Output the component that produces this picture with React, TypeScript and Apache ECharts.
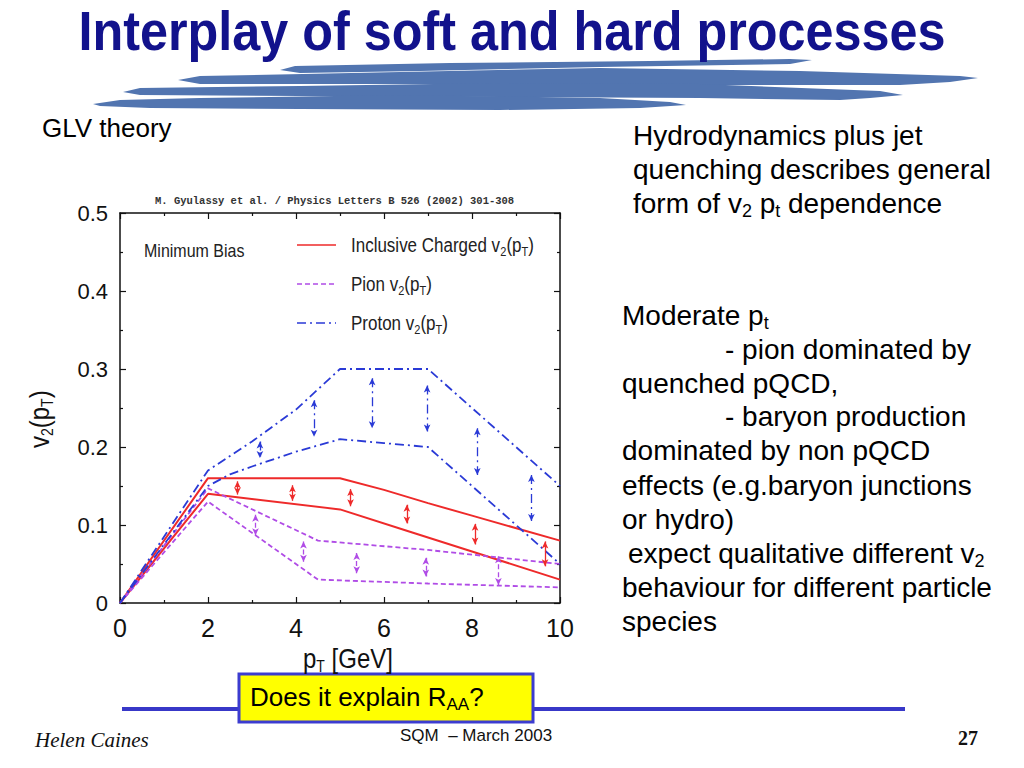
import React, { useEffect, useRef } from "react";
import * as echarts from "echarts";

// ---- data ----
const xTickLabels = ["0", "2", "4", "6", "8", "10"];
const yTickLabels = ["0", "0.1", "0.2", "0.3", "0.4", "0.5"];

const chargedUpper = [[0, 0], [2, 0.16], [5, 0.16], [6, 0.145], [7, 0.128], [8, 0.112], [10, 0.08]];
const chargedLower = [[0, 0], [2, 0.14], [5, 0.12], [6.5, 0.093], [8, 0.066], [10, 0.03]];
const pionUpper = [[0, 0], [2, 0.147], [4.5, 0.08], [7, 0.068], [10, 0.05]];
const pionLower = [[0, 0], [2, 0.13], [4.5, 0.03], [7, 0.025], [10, 0.02]];
const protonUpper = [[0, 0], [2, 0.17], [3, 0.207], [4, 0.248], [5, 0.3], [7, 0.3], [10, 0.15]];
const protonLower = [[0, 0], [2, 0.15], [2.5, 0.165], [3, 0.175], [4, 0.194], [5, 0.21], [6, 0.205], [7, 0.2], [10, 0.05]];

// arrows: [x, yFrom, yTo]
const chargedArrows = [[2.67, 0.156, 0.139], [3.92, 0.151, 0.131], [5.24, 0.146, 0.124], [6.52, 0.126, 0.102], [8.07, 0.1015, 0.075], [9.66, 0.079, 0.047]];
const pionArrows = [[3.08, 0.113, 0.087], [4.17, 0.079, 0.053], [5.38, 0.064, 0.038], [6.95, 0.058, 0.034], [8.6, 0.06, 0.023]];
const protonArrows = [[3.18, 0.207, 0.186], [4.41, 0.26, 0.213], [5.73, 0.288, 0.224], [6.98, 0.279, 0.22], [8.12, 0.224, 0.164], [9.35, 0.164, 0.105]];

const FONT = "'Liberation Sans', Arial, Helvetica, sans-serif";
const RED = "#ee2a2a";
const PURPLE = "#b04ce6";
const BLUE = "#2a3ad6";
const DASH = [5, 3];
const DASHDOT = [9, 4, 2, 4];

function richStyle(size: number, sub: number, lh: number, color = "#000") {
  return {
    a: { fontSize: size, fontFamily: FONT, fill: color, color, lineHeight: lh, verticalAlign: "middle" },
    s: { fontSize: sub, fontFamily: FONT, fill: color, color, lineHeight: sub, verticalAlign: "bottom" },
  };
}

function txt(x: number, y: number, text: string, size: number, sub: number, lh: number, extra: any = {}, color = "#000") {
  return {
    type: "text",
    x,
    y,
    z: 10,
    style: {
      text,
      rich: richStyle(size, sub, lh, color),
      fontFamily: FONT,
      fontSize: size,
      fill: color,
      align: "left",
      verticalAlign: "middle",
    },
    ...extra,
  };
}

function arrowMark(arrows: number[][], color: string, dash: any) {
  return {
    silent: true,
    symbol: ["arrow", "arrow"],
    symbolSize: [5, 7],
    label: { show: false },
    emphasis: { disabled: true },
    lineStyle: { color, width: 1.3, type: dash },
    data: arrows.map((a) => [{ coord: [a[0], a[1]] }, { coord: [a[0], a[2]] }]),
  };
}

function lineSeries(name: string, data: number[][], color: string, dash: any, width: number, arrows?: number[][]) {
  return {
    type: "line",
    name,
    data,
    xAxisIndex: 0,
    yAxisIndex: 0,
    showSymbol: false,
    symbol: "none",
    silent: true,
    lineStyle: { color, width, type: dash },
    markLine: arrows ? arrowMark(arrows, color, dash) : undefined,
  };
}

const swooshA = [[280, 70], [295, 66], [450, 63], [650, 61], [790, 59], [812, 60], [790, 64], [600, 67], [420, 71], [300, 73]];
const swooshB = [[178, 80], [200, 76], [400, 72], [600, 68], [800, 71], [960, 76], [978, 78], [950, 82], [900, 85], [700, 85], [500, 84], [300, 84], [200, 84]];
const swooshC = [[123, 92], [140, 88], [300, 86], [500, 83], [700, 84], [880, 91], [903, 95], [870, 98], [840, 100], [700, 98], [500, 97], [300, 96], [140, 95]];
const swooshD = [[93, 104], [120, 100], [200, 98], [400, 95], [600, 98], [670, 102], [686, 105], [640, 108], [500, 110], [300, 109], [150, 108], [100, 106]];

export default function App() {
  const ref = useRef<HTMLDivElement>(null);
  useEffect(() => {
    const chart = echarts.init(ref.current as HTMLDivElement, null, { renderer: "svg" });
    const axisCommon = {
      type: "value",
      axisLine: { show: true, onZero: false, lineStyle: { color: "#111", width: 1.5 } },
      axisTick: { show: true, inside: true, length: 6, lineStyle: { color: "#111", width: 1.2 } },
      minorTick: { show: true, splitNumber: 2, length: 3, lineStyle: { color: "#111", width: 1.2 } },
      splitLine: { show: false },
    };
    const swoosh = [swooshA, swooshB, swooshC, swooshD].map((pts) => ({
      type: "polygon",
      z: 1,
      shape: { points: pts },
      style: { fill: "#5275b0" },
    }));
    const rightLines: any[] = [
      [633, 135, "{a|Hydrodynamics plus jet}"],
      [633, 169, "{a|quenching describes general}"],
      [633, 203, "{a|form of v}{s|2}{a| p}{s|t}{a| dependence}"],
      [622, 315, "{a|Moderate p}{s|t}"],
      [725, 349, "{a|- pion dominated by}"],
      [622, 383, "{a|quenched pQCD,}"],
      [725, 416, "{a|- baryon production}"],
      [622, 450, "{a|dominated by non pQCD}"],
      [622, 485, "{a|effects (e.g.baryon junctions}"],
      [622, 519, "{a|or hydro)}"],
      [628, 553, "{a|expect qualitative different v}{s|2}"],
      [622, 587, "{a|behaviour for different particle}"],
      [622, 621, "{a|species}"],
    ];
    const tall = { scaleY: 1.15 };
    const graphic: any[] = [
      ...swoosh,
      {
        type: "text",
        x: 512,
        y: 31,
        z: 10,
        scaleX: 0.95,
        scaleY: 1.06,
        style: {
          text: "Interplay of soft and hard processes",
          fontFamily: FONT,
          fontWeight: "bold",
          fontSize: 53,
          fill: "#12128c",
          align: "center",
          verticalAlign: "middle",
        },
      },
      txt(42, 128, "{a|GLV theory}", 26, 16, 32),
      ...rightLines.map((l) => txt(l[0], l[1], l[2], 28, 18, 34)),
      // chart decorations
      {
        type: "text",
        x: 155,
        y: 201,
        z: 10,
        style: {
          text: "M. Gyulassy et al. / Physics Letters B 526 (2002) 301-308",
          fontFamily: "'Liberation Mono', 'DejaVu Sans Mono', monospace",
          fontWeight: "bold",
          fontSize: 10.5,
          fill: "#333",
          align: "left",
          verticalAlign: "middle",
        },
      },
      txt(144, 251, "{a|Minimum Bias}", 16, 11, 20, tall, "#222"),
      { type: "line", z: 10, shape: { x1: 297, y1: 245, x2: 336, y2: 245 }, style: { stroke: RED, lineWidth: 1.6 } },
      { type: "line", z: 10, shape: { x1: 297, y1: 284, x2: 336, y2: 284 }, style: { stroke: PURPLE, lineWidth: 1.6, lineDash: DASH } },
      { type: "line", z: 10, shape: { x1: 297, y1: 323, x2: 336, y2: 323 }, style: { stroke: BLUE, lineWidth: 1.6, lineDash: DASHDOT } },
      txt(351, 245, "{a|Inclusive Charged v}{s|2}{a|(p}{s|T}{a|)}", 17, 11, 22, tall, "#222"),
      txt(351, 284, "{a|Pion v}{s|2}{a|(p}{s|T}{a|)}", 17, 11, 22, tall, "#222"),
      txt(351, 323, "{a|Proton v}{s|2}{a|(p}{s|T}{a|)}", 17, 11, 22, tall, "#222"),
      txt(303, 658, "{a|p}{s|T}{a| [GeV]}", 24, 14, 28, tall, "#111"),
      txt(40, 448, "{a|v}{s|2}{a|(p}{s|T}{a|)}", 24, 14, 28, { rotation: Math.PI / 2, scaleY: 1.12 }, "#111"),
      // footer
      { type: "line", z: 5, shape: { x1: 122, y1: 709, x2: 905, y2: 709 }, style: { stroke: "#3838c8", lineWidth: 4 } },
      { type: "rect", z: 6, shape: { x: 239, y: 674, width: 294, height: 48 }, style: { fill: "#ffff00", stroke: "#3c3cd0", lineWidth: 3 } },
      txt(250, 697, "{a|Does it explain R}{s|AA}{a|?}", 26, 17, 32),
      {
        type: "text",
        x: 35,
        y: 740,
        z: 10,
        style: { text: "Helen Caines", fontFamily: "'Liberation Serif', 'DejaVu Serif', serif", fontStyle: "italic", fontSize: 21, fill: "#111", align: "left", verticalAlign: "middle" },
      },
      {
        type: "text",
        x: 400,
        y: 735,
        z: 10,
        style: { text: "SQM  – March 2003", fontFamily: FONT, fontSize: 17, fill: "#111", align: "left", verticalAlign: "middle" },
      },
      {
        type: "text",
        x: 978,
        y: 738,
        z: 10,
        style: { text: "27", fontFamily: "'Liberation Serif', 'DejaVu Serif', serif", fontWeight: "bold", fontSize: 20, fill: "#111", align: "right", verticalAlign: "middle" },
      },
    ];

    const option: any = {
      animation: false,
      backgroundColor: "#fff",
      textStyle: { fontFamily: FONT },
      grid: { left: 120, top: 213, width: 440, height: 390, containLabel: false },
      xAxis: [
        {
          ...axisCommon,
          min: 0,
          max: 10,
          interval: 2,
          position: "bottom",
          axisLabel: { fontSize: 25, color: "#111", margin: 12, fontFamily: FONT, formatter: (v: number) => xTickLabels[Math.round(v / 2)] },
        },
        { ...axisCommon, min: 0, max: 10, interval: 2, position: "top", axisLabel: { show: false } },
      ],
      yAxis: [
        {
          ...axisCommon,
          min: 0,
          max: 0.5,
          interval: 0.1,
          position: "left",
          axisLabel: { fontSize: 22, color: "#111", margin: 12, fontFamily: FONT, formatter: (v: number) => yTickLabels[Math.round(v * 10)] },
        },
        { ...axisCommon, min: 0, max: 0.5, interval: 0.1, position: "right", axisLabel: { show: false } },
      ],
      series: [
        lineSeries("Inclusive Charged upper", chargedUpper, RED, "solid", 2, chargedArrows),
        lineSeries("Inclusive Charged lower", chargedLower, RED, "solid", 2),
        lineSeries("Pion upper", pionUpper, PURPLE, DASH, 1.8, pionArrows),
        lineSeries("Pion lower", pionLower, PURPLE, DASH, 1.8),
        lineSeries("Proton upper", protonUpper, BLUE, DASHDOT, 1.8, protonArrows),
        lineSeries("Proton lower", protonLower, BLUE, DASHDOT, 1.8),
      ],
      graphic,
    };
    chart.setOption(option);
    return () => chart.dispose();
  }, []);
  return <div ref={ref} style={{ position: "absolute", left: 0, top: 0, width: 1024, height: 768, background: "#fff" }} />;
}
